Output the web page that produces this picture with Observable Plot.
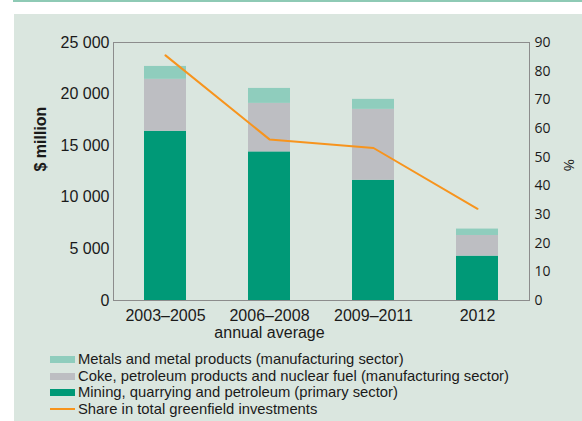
<!DOCTYPE html>
<html>
<head>
<meta charset="utf-8">
<script src="https://cdn.jsdelivr.net/npm/d3@7"></script>
<script src="https://cdn.jsdelivr.net/npm/@observablehq/plot@0.6"></script>
<style>
  html, body { margin: 0; padding: 0; background: #ffffff; }
  #wrap { position: relative; width: 582px; height: 421px; overflow: hidden; font-family: "Liberation Sans", Arial, sans-serif; color: #1a1a1a; }
  #panel { position: absolute; left: 14px; top: 14px; right: 0; bottom: 0; background: #dae6df; }
  #topline { position: absolute; left: 13px; top: 0; width: 569px; height: 2px; background: #8ecab5; }
  .layer { position: absolute; left: 0; top: 0; }
  #legend { position: absolute; left: 50px; top: 351px; font-size: 14.8px; line-height: 16.5px; }
  .row { display: flex; align-items: center; white-space: nowrap; }
  .sw { width: 25px; height: 7px; margin-right: 3px; margin-top: 1px; }
  .ln { width: 25px; height: 2px; margin-right: 3px; margin-top: 1px; }
</style>
</head>
<body>
<div id="wrap">
  <div id="topline"></div>
  <div id="panel"></div>
  <div id="p1" class="layer"></div>
  <div id="p2" class="layer"></div>
  <div id="legend"></div>
</div>
<script>
const periods = ["2003–2005", "2006–2008", "2009–2011", "2012"];
const seriesNames = [
  "Metals and metal products (manufacturing sector)",
  "Coke, petroleum products and nuclear fuel (manufacturing sector)",
  "Mining, quarrying and petroleum (primary sector)"
];
const lineName = "Share in total greenfield investments";
const subLabel = "annual average";
const mining = [16400, 14400, 11650, 4300];
const coke = [5030, 4700, 6870, 2000];
const metals = [1250, 1450, 970, 620];
const share = [85.5, 56.2, 53.2, 32];
const leftTicks = [0, 5000, 10000, 15000, 20000, 25000];
const rightTicks = [0, 10, 20, 30, 40, 50, 60, 70, 80, 90];
const colors = ["#8fcdbd", "#bdbec2", "#009977"];
const lineColor = "#f7941d";

const stackOrder = [seriesNames[2], seriesNames[1], seriesNames[0]];
const table = [];
periods.forEach((p, i) => {
  table.push({period: p, series: seriesNames[2], value: mining[i]});
  table.push({period: p, series: seriesNames[1], value: coke[i]});
  table.push({period: p, series: seriesNames[0], value: metals[i]});
});
const lineData = periods.map((p, i) => ({period: p, share: share[i]}));

const W = 582, H = 345;
const margins = {marginTop: 42, marginBottom: 45, marginLeft: 113, marginRight: 53};
const fmt = d => d3.format(",")(d).replace(/,/g, " ");
const xBand = {domain: periods, paddingInner: 0.596, paddingOuter: 0.298};

const p1 = Plot.plot({
  width: W, height: H, ...margins,
  style: {background: "transparent", fontFamily: "Liberation Sans, Arial, sans-serif", fontSize: "16px", color: "#1a1a1a"},
  x: {...xBand, label: null, tickSize: 0, tickPadding: 9},
  y: {domain: [0, 25000], ticks: leftTicks, tickFormat: fmt, label: null, tickSize: 0, tickPadding: 4},
  color: {domain: seriesNames, range: colors},
  marks: [
    Plot.barY(table, {x: "period", y: "value", fill: "series", order: stackOrder}),
    Plot.frame({stroke: "#8c8c8c", strokeWidth: 1}),
    Plot.text([subLabel], {x: () => periods[1], frameAnchor: "bottom", lineAnchor: "bottom", dy: 37, fontSize: 16, fill: "#1a1a1a"}),
    Plot.text(["$ million"], {frameAnchor: "left", dx: -73, rotate: -90, fontWeight: "bold", fontSize: 16, fill: "#1a1a1a"})
  ]
});
document.getElementById("p1").appendChild(p1);

const p2 = Plot.plot({
  width: W, height: H, ...margins,
  style: {background: "transparent", fontFamily: "Open Sans, sans-serif", fontSize: "14px", color: "#1a1a1a"},
  x: {...xBand, axis: null},
  y: {domain: [0, 90], ticks: rightTicks, axis: "right", label: null, tickSize: 0, tickPadding: 5},
  marks: [
    Plot.line(lineData, {x: "period", y: "share", stroke: lineColor, strokeWidth: 2}),
    Plot.text(["%"], {frameAnchor: "right", dx: 39, rotate: 90, fontSize: 15, fill: "#1a1a1a"})
  ]
});
document.getElementById("p2").appendChild(p2);

const legend = document.getElementById("legend");
seriesNames.forEach((name, i) => {
  const row = document.createElement("div");
  row.className = "row";
  row.innerHTML = `<div class="sw" style="background:${colors[i]}"></div><span>${name}</span>`;
  legend.appendChild(row);
});
const lrow = document.createElement("div");
lrow.className = "row";
lrow.innerHTML = `<div class="ln" style="background:${lineColor}"></div><span>${lineName}</span>`;
legend.appendChild(lrow);
</script>
</body>
</html>
